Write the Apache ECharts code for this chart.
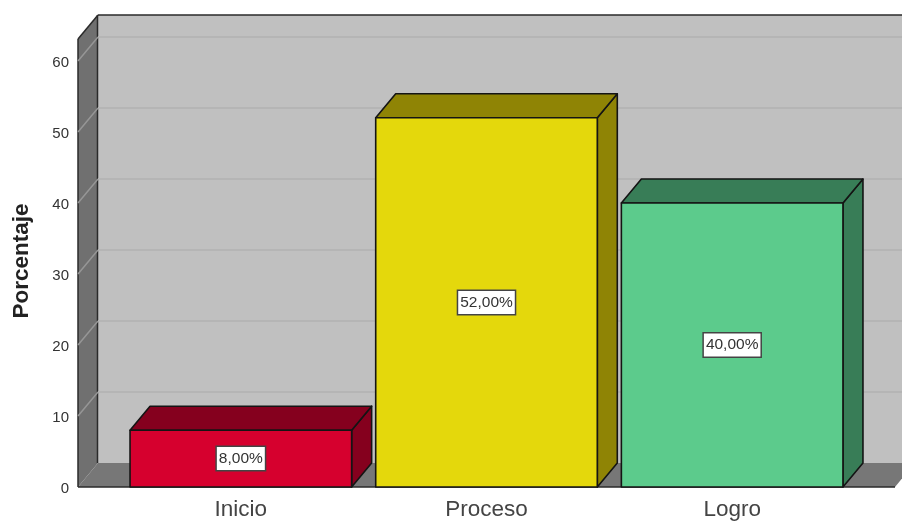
<!DOCTYPE html>
<html>
<head>
<meta charset="utf-8">
<style>html,body{margin:0;padding:0;background:#fff}#c{width:902px;height:521px}</style>
<script src="https://cdn.jsdelivr.net/npm/echarts@6/dist/echarts.min.js"></script>
</head>
<body>
<div id="c"></div>
<script>
const categories = ['Inicio', 'Proceso', 'Logro'];
const values = [8, 52, 40];
const frontColors = ['#d6002e', '#e4d80c', '#5ccb8c'];
const sideColors = ['#85001e', '#8f8405', '#387d57'];
const gridValues = [10, 20, 30, 40, 50, 60];
const axisTop = 63.1;

const DX = 20, DY = -24, WALL = 40, EDGE = '#141414';
const chart = echarts.init(document.getElementById('c'), null, {renderer: 'canvas'});

function poly(pts, fill, stroke, lw) {
  return {type: 'polygon', shape: {points: pts},
    style: {fill: fill, stroke: stroke || null, lineWidth: lw || 0, lineJoin: 'round'}};
}
function line(x1, y1, x2, y2, color, lw) {
  return {type: 'line', shape: {x1, y1, x2, y2}, style: {stroke: color, lineWidth: lw}};
}

function renderWalls(params, api) {
  const cs = params.coordSys;
  const x0 = cs.x - WALL, x1 = cs.x + cs.width + WALL;
  const yb = api.coord([0, 0])[1], yt = api.coord([0, axisTop])[1];
  return {type: 'group', children: [
    poly([[x0 + DX, yt + DY], [x1 + DX, yt + DY], [x1 + DX, yb + DY], [x0 + DX, yb + DY]], '#c0c0c0'),
    poly([[x0, yb], [x0 + DX, yb + DY], [x1 + DX, yb + DY], [x1, yb]], '#777777'),
    poly([[x0, yb], [x0, yt], [x0 + DX, yt + DY], [x0 + DX, yb + DY]], '#707070'),
    line(x0 + DX - 0.5, yt + DY, x0 + DX - 0.5, yb + DY, '#2a2a2a', 1.5),
    line(x0 + DX, yt + DY, x1 + DX, yt + DY, '#2a2a2a', 1.5),
    line(x0, yb, x0, yt, '#2a2a2a', 1.5),
    line(x0, yt, x0 + DX, yt + DY, '#2a2a2a', 1.5),
    line(x0, yb, x1, yb, '#2a2a2a', 1.5)
  ]};
}

function renderGrid(params, api) {
  const cs = params.coordSys;
  const x0 = cs.x - WALL, x1 = cs.x + cs.width + WALL;
  const y = api.coord([0, api.value(0)])[1];
  return {type: 'group', children: [
    line(x0 + DX, y + DY, x1 + DX, y + DY, '#b5b5b5', 2),
    line(x0, y, x0 + DX, y + DY, '#969696', 1.5)
  ]};
}

function renderBar(params, api) {
  const i = api.value(0), v = api.value(1);
  const c = api.coord([i, v]), b = api.coord([i, 0]);
  const w = api.size([1, 0])[0] * 0.902;
  const l = c[0] - w / 2, r = c[0] + w / 2, t = c[1], yb = b[1];
  return {type: 'group', children: [
    poly([[r, yb], [r, t], [r + DX, t + DY], [r + DX, yb + DY]], sideColors[i], EDGE, 1.6),
    poly([[l, t], [l + DX, t + DY], [r + DX, t + DY], [r, t]], sideColors[i], EDGE, 1.6),
    poly([[l, yb], [l, t], [r, t], [r, yb]], frontColors[i], EDGE, 1.6),
    {type: 'text', x: c[0], y: (t + yb) / 2, z2: 10, style: {
      text: v.toFixed(2).replace('.', ',') + '%',
      font: '15.5px "Liberation Sans"', fill: '#333333',
      align: 'center', verticalAlign: 'middle',
      backgroundColor: '#ffffff', borderColor: '#444444', borderWidth: 1.5,
      padding: [4, 2, 3, 2]
    }}
  ]};
}

chart.setOption({
  animation: false,
  backgroundColor: '#ffffff',
  grid: {left: 118, width: 737, top: 39, height: 448, outerBoundsMode: 'none'},
  xAxis: {
    type: 'category', data: categories,
    axisLine: {show: false}, axisTick: {show: false}, splitLine: {show: false},
    axisLabel: {color: '#444444', fontFamily: 'Liberation Sans', fontSize: 22.5, margin: 11}
  },
  yAxis: {
    type: 'value', min: 0, max: axisTop, interval: 10, offset: WALL,
    name: 'Porcentaje', nameLocation: 'middle', nameGap: 45, nameRotate: 90,
    nameTextStyle: {color: '#222222', fontFamily: 'Liberation Sans', fontWeight: 'bold', fontSize: 22.5, padding: [0, 0, 0, 4]},
    axisLine: {show: false}, axisTick: {show: false}, splitLine: {show: false},
    axisLabel: {color: '#333333', fontFamily: 'Liberation Sans', fontSize: 15, margin: 9, showMaxLabel: false, verticalAlign: 'top', lineHeight: 3}
  },
  series: [
    {type: 'custom', coordinateSystem: 'cartesian2d', z: 1, silent: true, data: [[0]], renderItem: renderWalls, clip: false},
    {type: 'custom', coordinateSystem: 'cartesian2d', z: 2, silent: true, data: gridValues.map(v => [v]), renderItem: renderGrid, clip: false},
    {type: 'custom', coordinateSystem: 'cartesian2d', z: 3, silent: true, encode: {x: 0, y: 1},
      data: values.map((v, i) => [i, v]), renderItem: renderBar, clip: false}
  ]
});
</script>
</body>
</html>
